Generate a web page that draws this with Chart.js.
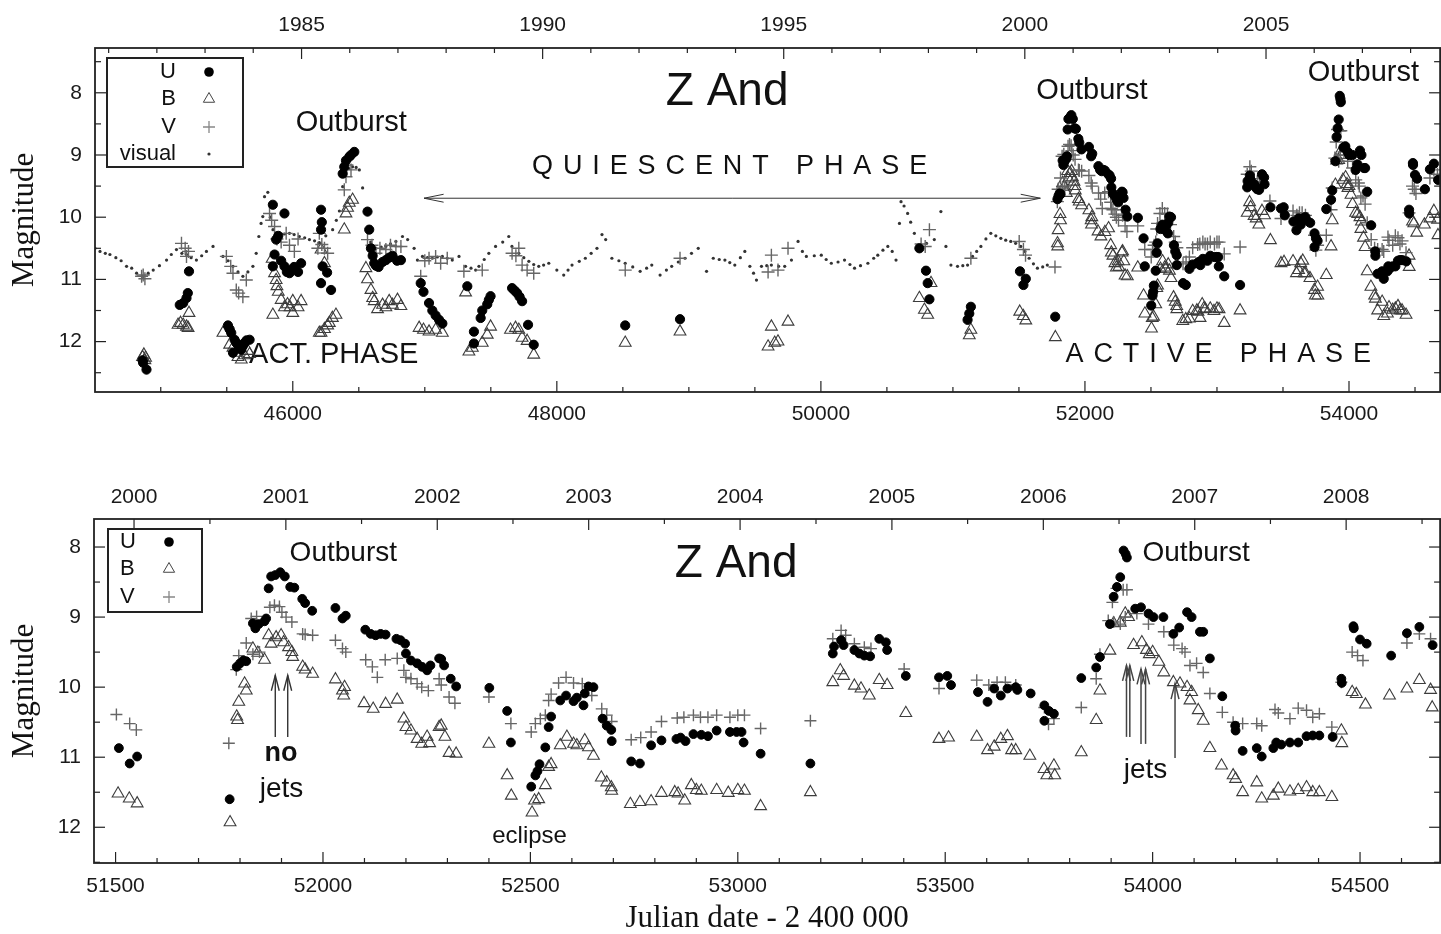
<!DOCTYPE html>
<html>
<head>
<meta charset="utf-8">
<script src="https://cdn.jsdelivr.net/npm/chart.js@4.4.0/dist/chart.umd.min.js"></script>
<style>
html, body { margin: 0; padding: 0; background: #fff; overflow: hidden; width: 1441px; height: 934px; }
canvas { position: absolute; left: 0; display: block; }
#top { top: 0; }
#bot { top: 450px; }
</style>
</head>
<body>
<canvas id="top" width="1448" height="450"></canvas>
<canvas id="bot" width="1448" height="484"></canvas>
<script>
// [JD - 2400000, magnitude]
// early data, only in the top panel
var U_EARLY = [[44862,12.30],[44867,12.34],[44892,12.45],
  [45144,11.41],[45170,11.38],[45195,11.30],[45205,11.22],[45214,10.87],
  [45509,11.74],[45522,11.80],[45534,11.86],[45547,12.18],[45559,11.97],[45572,12.02],[45585,12.05],[45597,12.10],[45610,12.13],[45622,12.07],[45635,12.02],[45650,11.98],[45673,11.97],
  [45849,9.80],[45937,9.94],
  [45849,10.79],[45862,10.60],[45874,10.36],[45890,10.30],[45912,10.70],[45937,10.79],[45955,10.88],[45975,10.90],[45990,10.85],[46010,10.80],[46040,10.88],[46063,10.74],
  [46214,9.88],[46214,10.20],[46220,10.08],[46226,10.79],[46214,11.06],[46260,10.89],[46290,11.17],
  [46378,9.30],[46390,9.19],[46403,9.09],[46428,9.03],[46441,9.00],[46466,8.95],
  [46566,9.91],[46579,10.20],[46592,10.50],[46605,10.62],[46617,10.74],[46630,10.78],[46650,10.80],[46680,10.72],[46705,10.69],[46730,10.65],[46755,10.62],[46790,10.70],[46819,10.69],
  [46969,11.06],[46990,11.20],[47032,11.38],[47057,11.50],[47082,11.58],[47108,11.65],[47133,11.71],
  [47322,11.11],[47372,11.84],[47372,12.03],
  [47423,11.62],[47435,11.50],[47473,11.40],[47485,11.33],[47498,11.27],
  [47661,11.14],[47680,11.18],[47699,11.22],[47718,11.28],[47737,11.35],
  [47782,11.73],[47825,12.05],
  [48518,11.74],[48933,11.64],
  [50746,10.50],[50796,10.86],[50809,11.06],[50822,11.32],
  [51111,11.65],[51124,11.55],[51136,11.44]];

var B_EARLY = [[44862,12.25],[44872,12.21],[44880,12.30],[44885,12.26],
  [45131,11.73],[45150,11.70],[45170,11.73],[45195,11.76],[45207,11.78],[45214,11.54],
  [45471,11.86],[45522,12.05],[45547,12.10],[45572,12.18],[45585,12.25],[45610,12.29],[45635,12.22],[45660,12.15],[45673,12.20],
  [45844,10.67],[45849,11.57],[45862,10.90],[45874,11.01],[45880,11.11],[45890,11.20],[45912,11.33],[45937,11.45],[45960,11.40],[45980,11.45],[46000,11.35],[46000,11.54],[46040,11.45],[46063,11.35],
  [46201,11.86],[46214,11.86],[46240,11.80],[46264,11.74],[46277,11.70],[46300,11.62],[46327,11.57],
  [46214,10.52],[46240,10.74],
  [46390,10.20],[46403,9.94],[46415,9.85],[46428,9.77],[46453,9.72],
  [46554,10.82],[46566,11.00],[46592,11.17],[46605,11.30],[46617,11.35],[46642,11.48],[46680,11.41],[46705,11.45],[46730,11.35],[46755,11.41],[46793,11.33],[46819,11.43],
  [46957,11.78],[46990,11.81],[47032,11.84],[47082,11.81],[47133,11.86],
  [47309,11.21],[47334,12.16],[47360,12.10],
  [47435,12.02],[47473,11.89],[47498,11.76],
  [47649,11.81],[47687,11.78],[47712,11.81],[47737,11.94],[47775,11.99],[47825,12.21],
  [48518,12.02],[48933,11.84],
  [49600,12.08],[49625,11.76],[49650,12.02],[49675,12.00],[49751,11.68],
  [50746,11.30],[50784,11.49],[50809,11.57],[50834,11.06],
  [51124,11.90],[51136,11.81]];

var V_EARLY = [[44855,10.95],[44867,10.93],[44880,10.99],
  [45157,10.42],[45185,10.50],[45195,10.63],[45210,10.55],
  [45497,10.63],[45530,10.79],[45547,10.90],[45572,11.17],[45590,11.22],[45622,11.28],[45648,11.01],
  [45824,9.94],[45840,10.05],[45862,10.15],[45880,10.35],[45912,10.40],[45950,10.26],[45975,10.45],[46012,10.55],[46040,10.35],
  [46190,10.50],[46201,10.26],[46220,10.44],[46240,10.50],[46264,10.58],
  [46390,9.56],[46403,9.35],[46410,9.16],[46441,9.24],
  [46566,10.36],[46600,10.45],[46630,10.58],[46660,10.50],[46705,10.52],[46740,10.45],[46781,10.47],[46819,10.47],
  [46969,10.95],[47000,10.70],[47032,10.66],[47082,10.63],[47120,10.74],[47170,10.66],
  [47296,10.87],
  [47435,10.85],[47661,10.58],[47690,10.62],[47712,10.50],[47737,10.77],[47775,10.85],[47825,10.90],
  [48518,10.85],[48933,10.66],
  [49600,10.88],[49625,10.61],[49675,10.85],[49751,10.50],
  [50759,10.43],[50790,10.47],[50822,10.20],
  [51136,10.66]];

var VISUAL = [[44502,10.50],[44540,10.55],[44580,10.58],[44615,10.60],[44660,10.65],[44700,10.70],[44741,10.79],[44780,10.82],[44817,10.90],[44867,10.95],[44905,10.90],[44943,10.85],[44990,10.78],[45044,10.69],[45080,10.60],[45119,10.52],[45160,10.58],[45195,10.60],[45230,10.65],[45270,10.69],[45310,10.62],[45346,10.55],[45396,10.47],
  [45471,10.63],[45510,10.70],[45547,10.79],[45585,10.88],[45622,10.95],[45660,10.88],[45698,10.79],[45723,10.58],[45743,10.31],[45760,10.10],[45773,9.99],[45786,9.67],[45811,9.60],
  [45830,10.00],[45850,10.20],[45875,10.25],[45899,10.26],[45937,10.27],[45975,10.26],[46010,10.28],[46050,10.31],[46090,10.33],[46126,10.36],[46165,10.38],[46201,10.41],[46250,10.30],[46302,10.20],[46330,10.05],[46353,9.90],[46378,9.51],[46400,9.29],[46425,9.22],[46453,9.19],[46480,9.20],[46504,9.24],[46529,9.53],[46554,9.90],[46570,10.20],[46590,10.40],[46630,10.50],[46670,10.48],[46705,10.47],[46740,10.43],[46781,10.39],[46831,10.31],[46870,10.36],[46919,10.50],
  [46944,10.69],[46982,10.63],[47020,10.65],[47057,10.66],[47095,10.64],[47133,10.63],[47170,10.66],[47208,10.69],[47259,10.63],[47309,10.79],[47350,10.82],[47385,10.85],
  [47410,10.79],[47450,10.68],[47485,10.58],[47536,10.47],[47590,10.40],[47636,10.31],[47660,10.47],[47712,10.58],[47750,10.65],[47788,10.71],[47825,10.76],[47863,10.79],[47900,10.77],[47939,10.74],[48000,10.85],[48052,10.93],[48085,10.85],[48115,10.77],[48170,10.71],[48216,10.66],[48260,10.58],[48304,10.50],[48342,10.28],[48370,10.36],[48417,10.66],[48470,10.70],[48518,10.74],[48575,10.80],[48631,10.87],[48680,10.82],[48719,10.77],[48782,10.93],[48830,10.85],[48870,10.79],[48920,10.72],[48971,10.66],[49020,10.58],[49071,10.50],[49134,10.87],[49185,10.66],[49230,10.68],[49273,10.69],[49310,10.73],[49348,10.77],[49390,10.65],[49424,10.55],[49462,10.79],[49490,10.90],[49512,11.01],[49550,10.79],[49590,10.78],[49625,10.77],[49680,10.79],[49726,10.79],[49777,10.69],[49827,10.39],[49860,10.55],[49890,10.63],[49950,10.62],[50003,10.61],[50040,10.68],[50079,10.74],[50130,10.72],[50179,10.69],[50220,10.76],[50255,10.82],[50300,10.78],[50356,10.74],[50400,10.66],[50431,10.61],[50470,10.53],[50507,10.47],[50540,10.55],[50569,10.69],[50595,10.10],[50607,9.75],[50630,9.82],[50657,9.94],[50680,10.08],[50708,10.26],[50740,10.45],[50800,10.42],[50859,10.36],[50909,9.91],[50947,10.47],[50985,10.77],
  [51035,10.79],[51075,10.78],[51111,10.77],[51149,10.63],[51180,10.55],[51212,10.47],[51250,10.35],[51287,10.26],[51325,10.30],[51363,10.34],[51400,10.37],[51438,10.39],[51475,10.42],[51514,10.47],[51545,10.55],[51577,10.66],[51610,10.75],[51640,10.82],[51680,10.80],[51715,10.77]];

// 2000-2008 data, both panels
var U_LATE = [[51508,10.87],[51534,11.09],[51552,10.99],
  [51775,11.60],
  [51792,9.71],[51800,9.66],[51808,9.62],[51815,9.63],
  [51831,9.09],[51837,9.16],[51845,9.10],[51859,9.06],[51863,9.02],
  [51869,8.59],[51875,8.42],[51885,8.40],[51897,8.36],[51908,8.42],
  [51921,8.57],[51931,8.58],
  [51950,8.74],[51957,8.80],[51974,8.91],
  [52030,8.87],[52047,9.02],[52055,8.98],
  [52102,9.18],[52115,9.24],[52127,9.26],[52139,9.24],[52151,9.25],
  [52177,9.31],[52187,9.33],[52198,9.38],
  [52200,9.52],[52212,9.62],[52227,9.66],[52239,9.71],[52251,9.76],[52259,9.69],
  [52280,9.59],[52285,9.60],[52292,9.69],
  [52308,9.88],[52321,9.99],
  [52401,10.01],[52444,10.34],[52453,10.79],
  [52502,11.42],[52512,11.26],[52517,11.20],[52522,11.10],
  [52536,10.86],[52544,10.57],[52550,10.42],
  [52572,10.19],[52586,10.12],[52604,10.20],[52612,10.15],[52628,10.26],[52631,10.09],[52640,9.99],[52652,10.00],
  [52674,10.45],[52684,10.55],[52695,10.61],[52696,10.77],
  [52743,11.06],[52764,11.09],
  [52791,10.83],[52816,10.76],
  [52852,10.74],[52862,10.72],[52874,10.77],[52893,10.67],[52912,10.68],[52928,10.70],[52949,10.62],[52981,10.64],[52997,10.64],[53009,10.64],[53014,10.79],
  [53055,10.95],
  [53175,11.09],
  [53229,9.52],[53232,9.42],[53249,9.33],[53255,9.40],[53281,9.47],[53293,9.52],[53305,9.55],[53319,9.56],[53341,9.31],[53357,9.36],[53360,9.47],
  [53405,9.84],
  [53485,9.86],[53505,9.84],[53514,9.97],
  [53579,10.07],[53602,10.21],[53618,10.02],[53634,10.12],[53650,10.02],[53670,10.00],[53674,10.04],[53706,10.09],
  [53739,10.26],[53739,10.48],[53750,10.34],[53762,10.38],
  [53828,9.87],[53864,9.72],[53873,9.57],
  [53897,9.10],[53906,8.71],[53914,8.57],[53922,8.43],
  [53930,8.05],[53935,8.10],[53938,8.15],
  [53958,8.88],[53972,8.86],[53990,8.95],[54002,9.00],[54026,9.00],[54050,9.24],[54064,9.15],[54083,8.93],[54094,9.00],[54114,9.21],[54122,9.21],[54138,9.59],
  [54168,10.13],
  [54199,10.55],[54200,10.62],[54217,10.91],[54251,10.87],[54263,10.99],[54291,10.87],[54298,10.79],[54310,10.82],[54331,10.79],[54351,10.79],[54371,10.70],[54386,10.69],[54402,10.69],[54434,10.71],
  [54455,9.88],[54456,9.94],
  [54484,9.13],[54485,9.16],[54500,9.32],[54516,9.38],
  [54575,9.55],[54613,9.23],[54643,9.14],[54675,9.40]];

var B_LATE = [[51506,11.52],[51533,11.59],[51552,11.66],
  [51776,11.93],
  [51792,10.42],[51794,10.47],[51797,10.21],[51811,9.95],[51815,10.05],
  [51831,9.45],[51843,9.51],[51859,9.61],[51869,9.26],[51875,9.38],[51887,9.29],[51899,9.26],[51905,9.36],[51917,9.43],[51925,9.50],[51927,9.57],
  [51951,9.71],[51957,9.75],[51975,9.81],
  [52030,9.89],[52047,10.05],[52050,10.12],[52052,10.00],
  [52099,10.23],[52121,10.31],[52151,10.24],[52179,10.18],
  [52195,10.45],[52200,10.57],[52212,10.62],[52227,10.74],[52238,10.81],[52251,10.71],[52257,10.80],
  [52280,10.57],[52285,10.55],[52294,10.71],
  [52304,10.94],[52321,10.95],
  [52400,10.81],[52444,11.26],[52454,11.55],
  [52504,11.79],[52510,11.62],[52520,11.60],[52536,11.40],[52544,11.14],[52550,11.10],
  [52572,10.83],[52588,10.71],[52604,10.81],[52612,10.83],[52631,10.76],[52640,10.86],[52652,10.98],
  [52671,11.29],[52684,11.36],[52695,11.43],[52696,11.48],
  [52741,11.67],[52764,11.64],[52791,11.63],
  [52816,11.51],[52848,11.50],[52856,11.52],[52872,11.62],[52888,11.40],[52900,11.47],[52912,11.48],[52949,11.47],[52977,11.51],[53000,11.47],[53016,11.48],
  [53055,11.70],
  [53175,11.50],
  [53229,9.93],[53247,9.76],[53255,9.84],[53281,9.98],[53297,10.02],[53317,10.12],[53341,9.90],[53360,9.97],
  [53405,10.37],
  [53485,10.74],[53508,10.72],
  [53576,10.71],[53602,10.90],[53618,10.85],[53634,10.74],[53650,10.70],[53660,10.90],[53670,10.90],[53704,10.98],
  [53738,11.17],[53745,11.26],[53762,11.12],[53764,11.26],
  [53828,10.93],[53864,10.47],[53873,10.05],[53897,9.48],
  [53906,9.09],[53922,9.08],[53934,8.95],[53942,9.00],
  [53954,9.40],[53974,9.36],[53985,9.47],[53992,9.53],[54000,9.50],[54015,9.64],[54027,9.79],
  [54050,9.93],[54066,9.95],[54083,10.00],[54094,10.07],[54090,10.19],[54110,10.33],[54122,10.48],
  [54138,10.87],
  [54166,11.12],[54194,11.26],[54200,11.31],[54217,11.50],
  [54251,11.36],[54263,11.59],[54291,11.55],[54303,11.45],[54331,11.49],[54351,11.47],[54371,11.43],[54386,11.50],[54402,11.50],[54432,11.57],
  [54455,10.62],[54456,10.80],[54481,10.07],[54491,10.10],[54513,10.25],
  [54571,10.12],[54613,10.02],[54643,9.90],[54670,10.04],[54674,10.29]];

var V_LATE = [[51502,10.39],[51534,10.52],[51550,10.61],
  [51773,10.80],
  [51791,9.75],[51797,9.55],[51815,9.37],[51827,9.02],[51831,9.53],[51840,8.99],[51847,9.50],
  [51872,8.86],[51883,8.83],[51895,8.85],[51901,8.93],[51911,9.00],[51925,9.07],
  [51951,9.24],[51957,9.25],[51975,9.26],
  [52030,9.33],[52047,9.45],[52055,9.50],
  [52103,9.61],[52119,9.71],[52131,9.86],[52150,9.61],[52179,9.59],
  [52195,9.76],[52200,9.86],[52212,9.88],[52227,9.95],[52238,10.00],[52254,10.05],
  [52280,9.88],[52285,9.97],[52304,10.14],[52318,10.23],
  [52400,10.14],[52453,10.52],
  [52502,10.64],[52512,10.52],[52524,10.45],[52536,10.40],[52544,10.19],[52550,10.10],[52568,9.94],[52586,9.86],[52604,9.94],[52625,9.95],[52648,10.12],
  [52672,10.31],[52684,10.40],[52696,10.49],
  [52743,10.75],[52766,10.72],[52791,10.64],[52816,10.49],[52854,10.44],[52870,10.43],[52893,10.40],[52910,10.43],[52928,10.43],[52949,10.40],[52981,10.43],[53000,10.40],[53016,10.40],
  [53055,10.59],
  [53175,10.48],
  [53229,9.31],[53249,9.19],[53260,9.26],[53281,9.38],[53305,9.43],[53321,9.45],
  [53401,9.74],
  [53485,10.02],
  [53576,9.90],[53605,9.97],[53625,9.93],[53645,9.93],[53670,9.97],
  [53739,10.29],[53749,10.53],[53762,10.45],
  [53828,10.29],[53864,9.88],[53873,9.53],
  [53893,9.05],[53903,8.79],[53913,8.59],[53929,8.61],[53938,8.61],
  [53906,9.07],[53922,9.10],[53934,9.00],
  [53962,8.95],[53990,9.10],[54027,9.21],[54051,9.40],[54071,9.45],[54078,9.50],[54090,9.69],[54106,9.66],[54122,9.79],[54138,10.09],
  [54168,10.36],[54194,10.50],[54217,10.52],[54251,10.52],[54263,10.55],[54295,10.32],[54303,10.37],[54331,10.45],[54351,10.30],[54371,10.33],[54386,10.43],[54402,10.38],[54432,10.57],
  [54455,9.93],[54481,9.50],[54494,9.55],[54507,9.62],
  [54613,9.37],[54643,9.24],[54670,9.31]];

// tick labels
var TOP_JD_LABELS = [46000, 48000, 50000, 52000, 54000];
var TOP_YEAR_LABELS = [1985, 1990, 1995, 2000, 2005];
var BOT_JD_LABELS = [51500, 52000, 52500, 53000, 53500, 54000, 54500];
var BOT_YEAR_LABELS = [2000, 2001, 2002, 2003, 2004, 2005, 2006, 2007, 2008];
var MAG_LABELS = [8, 9, 10, 11, 12];

var SANS = "'Liberation Sans', Arial, sans-serif";
var SERIF = "'Liberation Serif', 'Times New Roman', serif";
Chart.defaults.font.family = SANS;
Chart.defaults.color = '#1a1a1a';

// JD - 2400000 at 1 January of a year
function jdOfYear(y) {
    return Date.UTC(y, 0, 1) / 86400000 + 40587.5;
}

function xy(arr) {
    return arr.map(function (p) { return { x: p[0], y: p[1] }; });
}

function drawMarker(ctx, style, x, y) {
    ctx.save();
    if (style == 'U') {
        ctx.fillStyle = '#000';
        ctx.beginPath(); ctx.arc(x, y, 4.8, 0, Math.PI * 2); ctx.fill();
    } else if (style == 'B') {
        ctx.strokeStyle = '#444'; ctx.lineWidth = 1;
        var r = 6.5;
        ctx.beginPath();
        ctx.moveTo(x, y - r);
        ctx.lineTo(x + r * 0.866, y + r * 0.5);
        ctx.lineTo(x - r * 0.866, y + r * 0.5);
        ctx.closePath(); ctx.stroke();
    } else if (style == 'V') {
        ctx.strokeStyle = '#888'; ctx.lineWidth = 1.3;
        ctx.beginPath();
        ctx.moveTo(x - 6, y); ctx.lineTo(x + 6, y);
        ctx.moveTo(x, y - 6); ctx.lineTo(x, y + 6);
        ctx.stroke();
    } else {
        ctx.fillStyle = '#333';
        ctx.beginPath(); ctx.arc(x, y, 1.6, 0, Math.PI * 2); ctx.fill();
    }
    ctx.restore();
}

function drawArrow(ctx, x1, y1, x2, y2, o) {
    ctx.save();
    ctx.strokeStyle = o.color || '#222';
    ctx.lineWidth = o.width || 1;
    ctx.beginPath(); ctx.moveTo(x1, y1); ctx.lineTo(x2, y2); ctx.stroke();
    var head = function (fx, fy, tx, ty) {
        var ang = Math.atan2(ty - fy, tx - fx);
        ctx.beginPath();
        ctx.moveTo(tx - o.len * Math.cos(ang - o.spread), ty - o.len * Math.sin(ang - o.spread));
        ctx.lineTo(tx, ty);
        ctx.lineTo(tx - o.len * Math.cos(ang + o.spread), ty - o.len * Math.sin(ang + o.spread));
        ctx.stroke();
    };
    head(x1, y1, x2, y2);
    if (o.both) head(x2, y2, x1, y1);
    ctx.restore();
}

// texts and arrows (under the points), then frame, inward ticks and legend
var framePlugin = {
    id: 'frame',
    beforeDatasetsDraw: function (chart, args, o) {
        var ctx = chart.ctx, sx = chart.scales.x, sy = chart.scales.y;
        ctx.save();
        o.texts.forEach(function (t) {
            var px = sx.getPixelForValue(t.x), py = sy.getPixelForValue(t.y);
            ctx.font = t.font;
            ctx.fillStyle = '#111';
            ctx.textBaseline = 'middle';
            if (t.spacing) {
                ctx.textAlign = 'left';
                for (var i = 0; i < t.text.length; i++) {
                    ctx.fillText(t.text[i], px, py);
                    px += ctx.measureText(t.text[i]).width + t.spacing;
                }
            } else {
                ctx.textAlign = 'center';
                ctx.fillText(t.text, px, py);
            }
        });
        o.arrows.forEach(function (a) {
            drawArrow(ctx, sx.getPixelForValue(a.from[0]), sy.getPixelForValue(a.from[1]),
                sx.getPixelForValue(a.to[0]), sy.getPixelForValue(a.to[1]), a);
        });
        ctx.restore();
    },
    afterDraw: function (chart, args, o) {
        var ctx = chart.ctx, a = chart.chartArea;
        var sx = chart.scales.x, sy = chart.scales.y;
        ctx.save();
        ctx.strokeStyle = '#222';
        ctx.lineWidth = 1.8;
        ctx.strokeRect(a.left, a.top, a.right - a.left, a.bottom - a.top);
        ctx.lineWidth = 1.2;
        var line = function (x1, y1, x2, y2) {
            ctx.beginPath(); ctx.moveTo(x1, y1); ctx.lineTo(x2, y2); ctx.stroke();
        };
        // bottom JD ticks
        for (var v = Math.ceil(sx.min / o.jdMinor) * o.jdMinor; v <= sx.max; v += o.jdMinor) {
            var p = sx.getPixelForValue(v);
            line(p, a.bottom, p, a.bottom - (v % o.jdMajor == 0 ? 11 : 5));
        }
        // top year ticks
        for (var y = 1980; y <= 2010; y += o.yearStep) {
            var yi = Math.floor(y);
            var jd = jdOfYear(yi) + (y - yi) * (jdOfYear(yi + 1) - jdOfYear(yi));
            if (jd < sx.min || jd > sx.max) continue;
            var major = (y == yi) && (yi % o.yearMajor == 0);
            var q = sx.getPixelForValue(jd);
            line(q, a.top, q, a.top + (major ? 11 : 5));
        }
        // magnitude ticks, both sides
        for (var m = 7.5; m <= 12.5; m += 0.5) {
            if (m < sy.min || m > sy.max) continue;
            var r = sy.getPixelForValue(m);
            var len = (m % 1 == 0) ? 11 : 6;
            line(a.left, r, a.left + len, r);
            line(a.right, r, a.right - len, r);
        }
        // legend box
        var L = o.legend;
        ctx.lineWidth = 2;
        ctx.fillStyle = '#fff';
        ctx.fillRect(a.left + L.x, a.top + L.y, L.w, L.h);
        ctx.strokeRect(a.left + L.x, a.top + L.y, L.w, L.h);
        ctx.font = '22px ' + SANS;
        ctx.fillStyle = '#111';
        ctx.textBaseline = 'middle';
        ctx.textAlign = L.align;
        L.rows.forEach(function (name, i) {
            ctx.fillText(name, a.left + L.textX, a.top + L.rowY[i]);
            drawMarker(ctx, name, a.left + L.markX, a.top + L.rowY[i]);
        });
        ctx.restore();
    }
};

function datasets(u, b, v, vis, ur, cr) {
    var ds = [
        { label: 'U', data: xy(u), pointStyle: 'circle', pointRadius: ur, pointBackgroundColor: '#000', pointBorderColor: '#000', pointBorderWidth: 1 },
        { label: 'V', data: xy(v), pointStyle: 'cross', pointRadius: cr, pointBorderColor: '#666', pointBorderWidth: 1.4 },
        { label: 'B', data: xy(b), pointStyle: 'triangle', pointRadius: 6.8, pointBackgroundColor: 'rgba(255,255,255,0)', pointBorderColor: '#3c3c3c', pointBorderWidth: 1.1 }
    ];
    if (vis) ds.push({ label: 'visual', data: xy(vis), pointStyle: 'circle', pointRadius: 1.6, pointBackgroundColor: '#333', pointBorderWidth: 0 });
    return ds;
}

function makeChart(id, p) {
    var H = p.height;
    return new Chart(document.getElementById(id), {
        type: 'scatter',
        data: { datasets: p.datasets },
        plugins: [framePlugin],
        options: {
            responsive: false,
            animation: false,
            devicePixelRatio: 1,
            events: [],
            layout: { padding: { left: 0, top: 0, bottom: 0, right: 1448 - 1444 } },
            plugins: { legend: { display: false }, tooltip: { enabled: false }, frame: p.frame },
            scales: {
                x: {
                    type: 'linear', position: 'bottom', min: p.xMin, max: p.xMax, bounds: 'data',
                    grid: { display: false, drawTicks: false }, border: { display: false },
                    ticks: { font: { size: 21 }, padding: p.xPad, maxRotation: 0, autoSkip: false,
                        callback: function (v) { return String(v); } },
                    title: p.xTitle,
                    afterBuildTicks: function (s) { s.ticks = p.jdLabels.map(function (v) { return { value: v }; }); },
                    afterFit: function (s) { s.height = H - p.bottom; }
                },
                x2: {
                    type: 'linear', position: 'top', min: p.xMin, max: p.xMax, bounds: 'data',
                    grid: { display: false, drawTicks: false }, border: { display: false },
                    ticks: { font: { size: 21 }, padding: p.x2Pad, maxRotation: 0, autoSkip: false,
                        callback: function (v, i) { return String(p.yearLabels[i]); } },
                    afterBuildTicks: function (s) { s.ticks = p.yearLabels.map(function (y) { return { value: jdOfYear(y) }; }); },
                    afterFit: function (s) { s.height = p.top; }
                },
                y: {
                    type: 'linear', position: 'left', reverse: true, min: p.yMin, max: p.yMax, bounds: 'data',
                    grid: { display: false, drawTicks: false }, border: { display: false },
                    ticks: { font: { size: 21 }, padding: 13, autoSkip: false },
                    title: { display: true, text: 'Magnitude', color: '#111', font: { family: SERIF, size: 31, lineHeight: 1.2 }, padding: { top: 6, bottom: 0 } },
                    afterBuildTicks: function (s) { s.ticks = MAG_LABELS.map(function (v) { return { value: v }; }); },
                    afterFit: function (s) { s.width = p.left; }
                }
            }
        }
    });
}

// top panel: whole light curve
makeChart('top', {
    height: 450, top: 48, bottom: 392, left: 95,
    xMin: 44502, xMax: 54690, yMin: 7.28, yMax: 12.81,
    xPad: 10, x2Pad: 10,
    jdLabels: TOP_JD_LABELS, yearLabels: TOP_YEAR_LABELS,
    xTitle: { display: false },
    datasets: datasets(U_EARLY.concat(U_LATE), B_EARLY.concat(B_LATE), V_EARLY.concat(V_LATE), VISUAL, 4.6, 6.5),
    frame: {
        jdMinor: 500, jdMajor: 2000, yearStep: 1, yearMajor: 5,
        legend: { x: 12, y: 10, w: 136, h: 109, align: 'right', textX: 81, markX: 114, rows: ['U', 'B', 'V', 'visual'], rowY: [24, 51, 79, 106] },
        texts: [
            { text: 'Z And', x: 49290, y: 7.99, font: '46px ' + SANS },
            { text: 'Outburst', x: 46443, y: 8.49, font: '29px ' + SANS },
            { text: 'Outburst', x: 52053, y: 7.97, font: '29px ' + SANS },
            { text: 'Outburst', x: 54109, y: 7.68, font: '29px ' + SANS },
            { text: 'QUIESCENT PHASE', x: 47812, y: 9.18, font: '27px ' + SANS, spacing: 9.9 },
            { text: 'ACTIVE PHASE', x: 51853, y: 12.21, font: '27px ' + SANS, spacing: 9.9 },
            { text: 'ACT. PHASE', x: 46310, y: 12.21, font: '29px ' + SANS }
        ],
        arrows: [
            { from: [46994, 9.695], to: [51662, 9.695], both: true, len: 20, spread: 0.2, width: 1, color: '#333' }
        ]
    }
});

// bottom panel: 2000-2008
makeChart('bot', {
    height: 484, top: 69, bottom: 413, left: 94,
    xMin: 51448, xMax: 54693, yMin: 7.6, yMax: 12.51,
    xPad: 11, x2Pad: 9,
    jdLabels: BOT_JD_LABELS, yearLabels: BOT_YEAR_LABELS,
    xTitle: { display: true, text: 'Julian date - 2 400 000', color: '#111', font: { family: SERIF, size: 31, lineHeight: 1 }, padding: { top: 0, bottom: 0 } },
    datasets: datasets(U_LATE, B_LATE, V_LATE, null, 4.4, 6),
    frame: {
        jdMinor: 100, jdMajor: 500, yearStep: 0.5, yearMajor: 1,
        legend: { x: 14, y: 10, w: 94, h: 83, align: 'left', textX: 26, markX: 75, rows: ['U', 'B', 'V'], rowY: [23, 50, 78] },
        texts: [
            { text: 'Z And', x: 52996, y: 8.24, font: '46px ' + SANS },
            { text: 'Outburst', x: 52049, y: 8.09, font: '28px ' + SANS },
            { text: 'Outburst', x: 54105, y: 8.09, font: '28px ' + SANS },
            { text: 'no', x: 51899, y: 10.95, font: 'bold 27px ' + SANS },
            { text: 'jets', x: 51900, y: 11.46, font: '28px ' + SANS },
            { text: 'jets', x: 53983, y: 11.19, font: '28px ' + SANS },
            { text: 'eclipse', x: 52498, y: 12.13, font: '24px ' + SANS }
        ],
        arrows: [
            { from: [51885, 10.71], to: [51885, 9.83], len: 16, spread: 0.25, width: 1.4, color: '#333' },
            { from: [51915, 10.71], to: [51915, 9.83], len: 16, spread: 0.25, width: 1.4, color: '#333' },
            { from: [53937, 10.71], to: [53937, 9.69], len: 16, spread: 0.25, width: 1.5, color: '#444' },
            { from: [53945, 10.71], to: [53945, 9.69], len: 16, spread: 0.25, width: 1.5, color: '#444' },
            { from: [53972, 10.81], to: [53972, 9.74], len: 16, spread: 0.25, width: 1.5, color: '#444' },
            { from: [53983, 10.81], to: [53983, 9.74], len: 16, spread: 0.25, width: 1.5, color: '#444' },
            { from: [54054, 11.01], to: [54054, 9.95], len: 16, spread: 0.25, width: 1.5, color: '#444' }
        ]
    }
});
</script>
</body>
</html>
